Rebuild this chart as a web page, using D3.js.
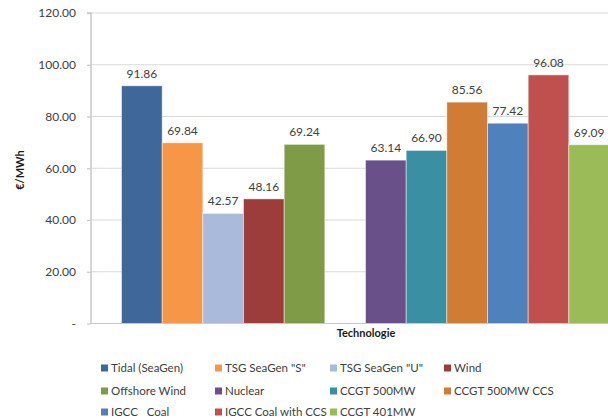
<!DOCTYPE html>
<html>
<head>
<meta charset="utf-8">
<script src="https://cdn.jsdelivr.net/npm/d3@7"></script>
<style>
  html, body { margin: 0; padding: 0; background: #fff; }
  svg { display: block; font-family: Lato, "Open Sans", sans-serif; }
</style>
</head>
<body>
<svg id="chart" width="608" height="419"></svg>
<script>
// Levelised cost per technology (€/MWh). The empty slot separates marine/renewables from conventional plant.
const seriesNames = ["Tidal (SeaGen)", "TSG SeaGen \"S\"", "TSG SeaGen \"U\"", "Wind", "Offshore Wind", "",
  "Nuclear", "CCGT 500MW", "CCGT 500MW CCS", "IGCC   Coal", "IGCC Coal with CCS", "CCGT 401MW"];
const seriesValues = [91.86, 69.84, 42.57, 48.16, 69.24, null, 63.14, 66.90, 85.56, 77.42, 96.08, 69.09];
const seriesColors = ["#3F6799", "#F79646", "#A9BADA", "#9C3D3B", "#7F9B47", null,
  "#6A5088", "#3A8FA3", "#D07C35", "#4F81BD", "#C0504D", "#9BBB59"];
const yTicks = [0, 20, 40, 60, 80, 100, 120];
const xTitle = "Technologie";
const yTitle = "€/MWh";

const svg = d3.select("#chart");
const plot = { left: 91, right: 640, top: 13, bottom: 323.5 };

const slots = seriesNames.map((n, i) => i);
const x = d3.scaleBand().domain(slots).range([plot.left, plot.right]).paddingOuter(0.75).paddingInner(0);
const y = d3.scaleLinear().domain([0, 120]).range([plot.bottom, plot.top]);

// gridlines
svg.append("g").selectAll("line").data(yTicks.filter(d => d > 0)).join("line")
  .attr("x1", plot.left).attr("x2", 608)
  .attr("y1", d => y(d)).attr("y2", d => y(d))
  .attr("stroke", "#d9d9d9").attr("stroke-width", 1.2);

// y axis
const yAxis = d3.axisLeft(y).tickValues(yTicks).tickSize(4).tickPadding(11)
  .tickFormat(d => d === 0 ? "-" : d3.format(".2f")(d));
const gy = svg.append("g").attr("transform", `translate(${plot.left},0)`).call(yAxis);
gy.select(".domain").attr("stroke", "#c8c8c8").attr("stroke-width", 1.5).attr("d", `M-4,${plot.top}H0V${plot.bottom}`);
gy.selectAll(".tick line").attr("stroke", "#c8c8c8").attr("stroke-width", 1.2);
gy.selectAll(".tick text").attr("fill", "#404040").style("font-size", "12px")
  .style("font-family", "Lato, 'Open Sans', sans-serif");

// bars
const barData = slots.filter(i => seriesValues[i] != null);
svg.append("g").selectAll("rect").data(barData).join("rect")
  .attr("x", i => x(i)).attr("width", x.bandwidth())
  .attr("y", i => y(seriesValues[i])).attr("height", i => y(0) - y(seriesValues[i]))
  .attr("fill", i => seriesColors[i])
  .attr("stroke", "rgba(255,255,255,0.6)").attr("stroke-width", 0.8);

// x axis baseline
svg.append("line").attr("x1", plot.left).attr("x2", 608)
  .attr("y1", y(0)).attr("y2", y(0)).attr("stroke", "#c8c8c8").attr("stroke-width", 1.2);

// value labels
svg.append("g").selectAll("text").data(barData).join("text")
  .attr("x", i => x(i) + x.bandwidth() / 2).attr("y", i => y(seriesValues[i]) - 8)
  .attr("text-anchor", "middle").attr("fill", "#404040").style("font-size", "12px")
  .text(i => d3.format(".2f")(seriesValues[i]));

// axis titles
svg.append("text").attr("x", 366).attr("y", 337).attr("text-anchor", "middle")
  .style("font-size", "11px").style("font-weight", "bold").attr("fill", "#1a1a1a").text(xTitle);
svg.append("text").attr("transform", "translate(24,170) rotate(-90)").attr("text-anchor", "middle")
  .style("font-size", "11px").style("font-weight", "bold").attr("fill", "#1a1a1a").text(yTitle);

// legend, four columns
const legendItems = slots.filter(i => seriesNames[i] !== "");
const colX = [101, 215, 330, 444];
const rowY = [368, 391, 412];
const lg = svg.append("g").selectAll("g").data(legendItems).join("g")
  .attr("transform", (d, k) => `translate(${colX[k % 4]},${rowY[Math.floor(k / 4)]})`);
lg.append("rect").attr("x", 0).attr("y", -3.5).attr("width", 7).attr("height", 7)
  .attr("fill", i => seriesColors[i]);
lg.append("text").attr("x", 10).attr("y", 0).attr("dy", "0.35em")
  .style("font-size", "11.5px").style("white-space", "pre").attr("fill", "#404040")
  .text(i => seriesNames[i]);
</script>
</body>
</html>
